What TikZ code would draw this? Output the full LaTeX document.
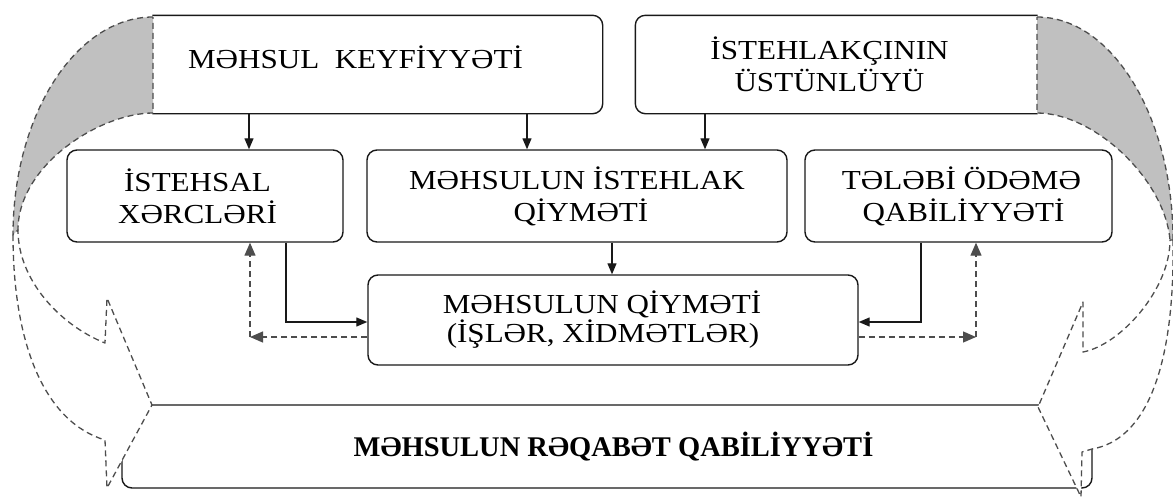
\documentclass[tikz,border=0pt]{standalone}
\usepackage{fontspec}
\setmainfont{Liberation Serif}
\newfontfamily\boxfont{Liberation Serif}[FakeStretch=1.13]
\usetikzlibrary{arrows.meta}
\definecolor{dashgrey}{HTML}{4D4D4D}
\definecolor{backgrey}{HTML}{C0C0C0}
\tikzset{
  box/.style={draw=black!90, line width=1.4pt, rounded corners=10pt, align=center,
    font=\boxfont\fontsize{27.5}{32}\selectfont, inner sep=0pt},
  boxline/.style={draw=black!90, line width=1.4pt, rounded corners=10pt},
  arr/.style={line width=1.3pt, draw=black!90, -{Triangle[length=11pt,width=9pt]}},
  darr/.style={line width=1.3pt, draw=dashgrey, dash pattern=on 6pt off 4pt,
    -{Triangle[length=13pt,width=11pt]}},
  ribbon/.style={draw=dashgrey, line width=1.3pt, dash pattern=on 6pt off 4pt, line join=round},
}
\begin{document}
\begin{tikzpicture}[x=1pt,y=-1pt]
\useasboundingbox (0,0) rectangle (1173,501);
\fill[white] (0,0) rectangle (1173,501);

% top boxes (left/right edges hidden by ribbons)
\node[box, draw=none, minimum width=449pt, minimum height=97pt] (b1) at (377.5,64.5)
  {\smash{\raisebox{-3.5pt}{MƏHSUL\ \ KEYFİYYƏTİ}}\hspace*{44pt}};
\draw[boxline] (b1.south west) -- (b1.south east) -- (b1.north east) -- (b1.north west);
\node[box, draw=none, minimum width=401pt, minimum height=97pt] (b2) at (836.5,64.5)
  {İSTEHLAKÇININ\hspace*{14pt}\\ÜSTÜNLÜYÜ\hspace*{14pt}};
\draw[boxline] (b2.south east) -- (b2.south west) -- (b2.north west) -- (b2.north east);

% middle boxes
\node[box, minimum width=276pt, minimum height=92pt] (m1) at (205,196)
  {İSTEHSAL\hspace*{15pt}\\XƏRCLƏRİ\hspace*{15pt}};
\node[box, minimum width=420pt, minimum height=92pt] (m2) at (577,196)
  {MƏHSULUN İSTEHLAK\\\hspace*{8pt}QİYMƏTİ};
\node[box, minimum width=307pt, minimum height=92pt] (m3) at (958.5,196)
  {\hspace*{6pt}TƏLƏBİ ÖDƏMƏ\\\hspace*{10pt}QABİLİYYƏTİ};

% price box
\node[box, minimum width=490pt, minimum height=90pt, font=\boxfont\fontsize{27.5}{29}\selectfont] (p) at (613,320)
  {MƏHSULUN QİYMƏTİ\hspace*{22pt}\\(İŞLƏR, XİDMƏTLƏR)\hspace*{20pt}};

% bottom box
\node[box, minimum width=970pt, minimum height=83pt, font=\fontsize{28.5}{34}\selectfont\bfseries] (r) at (607,446.5)
  {\hspace*{13pt}MƏHSULUN RƏQABƏT QABİLİYYƏTİ};

% connectors
\coordinate (xa) at (249,0);
\coordinate (xb) at (527,0);
\coordinate (xc) at (705,0);
\coordinate (xd) at (612,0);
\coordinate (xe) at (286,0);
\coordinate (xf) at (921,0);
\coordinate (xg) at (250,0);
\coordinate (xh) at (976,0);
\coordinate (ya) at (0,322);
\coordinate (yb) at (0,337);
\draw[arr] (xa |- b1.south) -- (xa |- m1.north);
\draw[arr] (xb |- b1.south) -- (xb |- m2.north);
\draw[arr] (xc |- b2.south) -- (xc |- m2.north);
\draw[arr] (xd |- m2.south) -- (xd |- p.north);
\draw[arr] (xe |- m1.south) -- (xe |- ya) -- (p.west |- ya);
\draw[arr] (xf |- m3.south) -- (xf |- ya) -- (p.east |- ya);
\coordinate (dl) at (xg |- yb);
\coordinate (dr) at (xh |- yb);
\draw[darr] (p.west |- yb) -- (dl);
\draw[darr] (dl) -- (xg |- m1.south);
\draw[darr] (p.east |- yb) -- (dr);
\draw[darr] (dr) -- (xh |- m3.south);

% left ribbon arrow
\path[ribbon, fill=backgrey] (153,17) .. controls (76,17) and (13,115) .. (13,235)
  -- (18,230) .. controls (18,165) and (100,113) .. (153,113) -- cycle;
\path[ribbon, fill=white] (13,235) .. controls (13,345) and (45,422) .. (105,440)
  -- (107,488) -- (152,405) -- (107,298) -- (105,343)
  .. controls (60,325) and (18,280) .. (18,230) -- cycle;

% right ribbon arrow
\path[ribbon, fill=backgrey] (1037,17) .. controls (1112,17) and (1173,117) .. (1173,240)
  -- (1170,240) .. controls (1165,180) and (1095,113) .. (1037,113) -- cycle;
\path[ribbon, fill=white] (1173,240) .. controls (1175,370) and (1145,440) .. (1092,449)
  -- (1082,452) -- (1081,497) -- (1038,407) -- (1083,302) -- (1083,352)
  .. controls (1120,345) and (1170,290) .. (1170,240) -- cycle;
\end{tikzpicture}
\end{document}
